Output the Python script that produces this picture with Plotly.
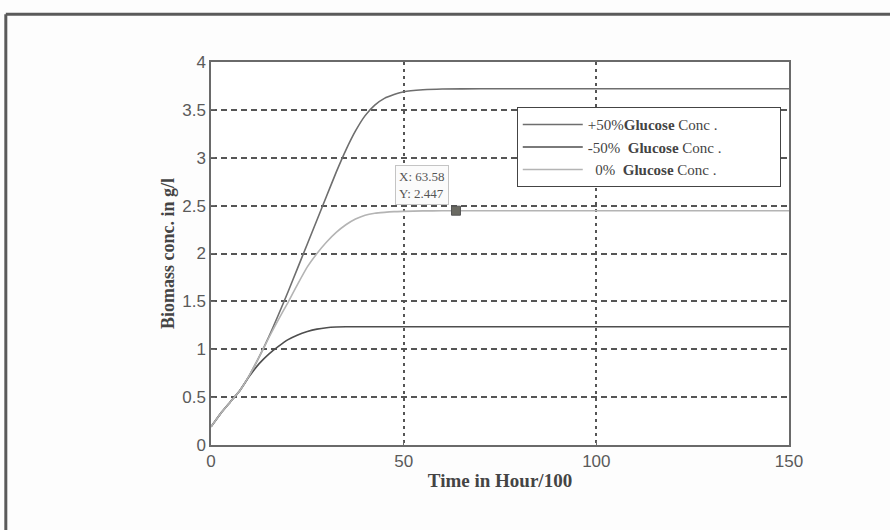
import plotly.graph_objects as go

# ---- data ----
time_x = [0, 2.5, 5, 7.5, 10, 12.5, 15, 17.5, 20, 22.5, 25, 27.5, 30, 32.5, 35,
          37.5, 40, 42.5, 45, 47.5, 50, 55, 60, 70, 100, 150]
plus50 = [0.19, 0.33, 0.45, 0.57, 0.73, 0.92, 1.13, 1.36, 1.60, 1.85, 2.10, 2.35, 2.60, 2.85, 3.08,
          3.28, 3.44, 3.55, 3.62, 3.66, 3.69, 3.71, 3.718, 3.72, 3.72, 3.72]
minus50 = [0.19, 0.33, 0.45, 0.57, 0.72, 0.85, 0.95, 1.03, 1.10, 1.15, 1.185, 1.21, 1.225, 1.232, 1.235,
           1.235, 1.235, 1.235, 1.235, 1.235, 1.235, 1.235, 1.235, 1.235, 1.235, 1.235]
zero = [0.19, 0.33, 0.45, 0.57, 0.73, 0.92, 1.12, 1.31, 1.49, 1.68, 1.86, 2.00, 2.12, 2.22, 2.30,
        2.36, 2.40, 2.42, 2.43, 2.437, 2.44, 2.445, 2.446, 2.447, 2.447, 2.447]
pad = "\u00a0" * 14
series_names = ["+50%<b>Glucose</b> Conc ." + pad,
                "-50%\u00a0 <b>Glucose</b> Conc ." + pad,
                "\u00a0\u00a00%\u00a0 <b>Glucose</b> Conc ." + pad]
series_colors = ["#6e6e6e", "#4e4e4e", "#b4b4b4"]
tip_x, tip_y = 63.58, 2.447
x_ticks = [0, 50, 100, 150]
y_ticks = [0, 0.5, 1, 1.5, 2, 2.5, 3, 3.5, 4]
y_tick_text = ["0", "0.5", "1", "1.5", "2", "2.5", "3", "3.5", "4"]

fig = go.Figure()
for name, ys, col in zip(series_names, [plus50, minus50, zero], series_colors):
    fig.add_trace(go.Scatter(x=time_x, y=ys, mode="lines", name=name,
                             line=dict(color=col, width=1.6, shape="spline", smoothing=0.5)))

# data tip marker
fig.add_trace(go.Scatter(x=[tip_x], y=[tip_y], mode="markers", showlegend=False,
                         marker=dict(symbol="square", size=9, color="#6a6a62",
                                     line=dict(color="#555", width=1))))
fig.add_annotation(x=tip_x, y=tip_y, xref="x", yref="y", showarrow=False,
                   xanchor="right", yanchor="bottom", xshift=-7, yshift=6,
                   text="X: 63.58<br>Y: 2.447", align="left",
                   font=dict(family="Liberation Serif", size=13, color="#555"),
                   bgcolor="#fbfbfb", bordercolor="#c4c4c4", borderwidth=1, borderpad=3)

# outer figure frame (scanned page border)
frame = dict(color="#5a5a5a", width=3)
fig.add_shape(type="line", xref="paper", yref="paper", x0=-0.355, y0=1.1245, x1=1.3, y1=1.1245, line=frame)
fig.add_shape(type="line", xref="paper", yref="paper", x0=-0.355, y0=1.1245, x1=-0.355, y1=-0.3, line=frame)

fig.update_layout(
    width=890, height=530,
    margin=dict(l=211, r=101, t=62, b=85),
    paper_bgcolor="#fdfdfd", plot_bgcolor="#ffffff",
    font=dict(family="Liberation Sans", color="#555"),
    legend=dict(x=0.529, y=0.882, xanchor="left", yanchor="top",
                bgcolor="#ffffff", bordercolor="#444", borderwidth=1,
                font=dict(family="Liberation Serif", size=15, color="#444"),
                itemwidth=60, tracegroupgap=0),
    xaxis=dict(range=[0, 150], tickvals=x_ticks, ticktext=[str(v) for v in x_ticks],
               showgrid=True, gridcolor="#555", gridwidth=1.5, griddash="3px,4px",
               showline=True, linecolor="#6a6a6a", linewidth=1.5, mirror=True,
               ticks="inside", ticklen=4, tickcolor="#6a6a6a", zeroline=False,
               tickfont=dict(family="Liberation Sans", size=17, color="#5a5a5a"),
               title=dict(text="<b>Time in Hour/100</b>", standoff=4,
                          font=dict(family="Liberation Serif", size=19, color="#444"))),
    yaxis=dict(range=[0, 4], tickvals=y_ticks, ticktext=y_tick_text,
               showgrid=True, gridcolor="#555", gridwidth=1.5, griddash="6px,4px",
               showline=True, linecolor="#6a6a6a", linewidth=1.5, mirror=True,
               ticks="inside", ticklen=4, tickcolor="#6a6a6a", zeroline=False,
               tickfont=dict(family="Liberation Sans", size=17, color="#5a5a5a"),
               title=dict(text="<b>Biomass conc. in g/l</b>", standoff=3,
                          font=dict(family="Liberation Serif", size=18, color="#444"))),
)

fig.write_html("out.html")
